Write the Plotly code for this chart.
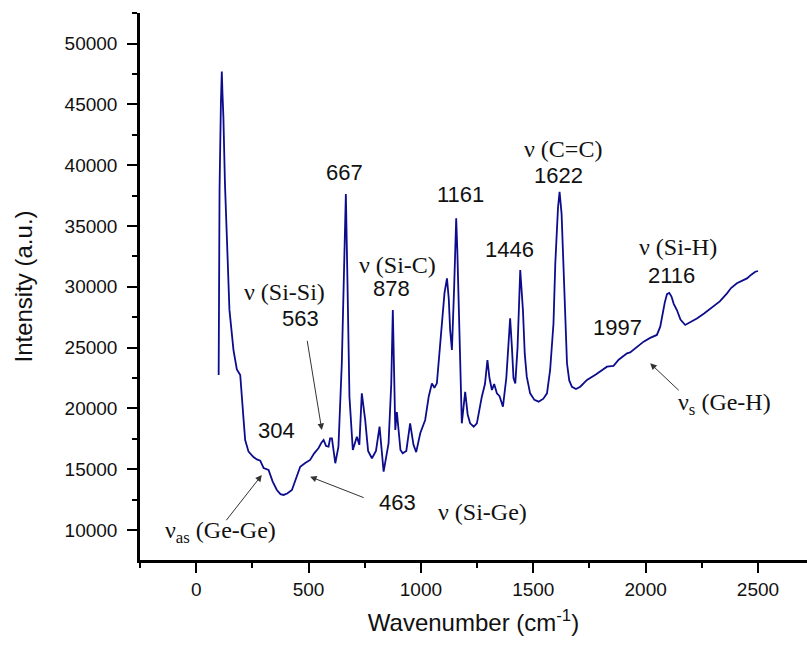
import plotly.graph_objects as go

# ---- data ----
wavenumber = [100, 104, 110, 114, 117, 121, 128, 137, 148, 166, 181, 196, 203, 211, 218, 233,
              255, 270, 285, 300, 322, 340, 359, 375, 389, 405, 426, 445, 463, 485, 507, 525,
              544, 558, 567, 578, 589, 596, 604, 619, 633, 648, 659, 666, 673, 682, 697, 708,
              715, 726, 737, 752, 765, 782, 800, 816, 834, 856, 868, 875, 880, 886, 893, 909,
              919, 935, 952, 967, 979, 997, 1019, 1035, 1049, 1060, 1071, 1086, 1093, 1105,
              1116, 1124, 1130, 1138, 1148, 1157, 1162, 1167, 1175, 1182, 1197, 1208, 1219,
              1235, 1249, 1260, 1271, 1285, 1296, 1305, 1316, 1326, 1338, 1350, 1365, 1380,
              1392, 1397, 1405, 1412, 1420, 1430, 1442, 1448, 1454, 1462, 1471, 1486, 1505,
              1524, 1545, 1561, 1575, 1590, 1598, 1610, 1617, 1626, 1635, 1643, 1650, 1660,
              1672, 1690, 1709, 1739, 1780, 1828, 1857, 1880, 1917, 1931, 1960, 1991, 2020,
              2050, 2065, 2072, 2085, 2095, 2105, 2115, 2125, 2139, 2155, 2176, 2200, 2228,
              2260, 2302, 2330, 2362, 2380, 2406, 2430, 2451, 2470, 2488, 2500]
intensity = [22750, 37960, 45100, 47700, 45900, 44000, 38500, 33000, 28100, 24800, 23200, 22750,
             20700, 19050, 17400, 16440, 16000, 15800, 15700, 15100, 14930, 14000, 13290, 12950,
             12880, 13000, 13290, 14300, 15200, 15500, 15760, 16300, 16720, 17200, 17400, 16900,
             16850, 17540, 17540, 15490, 16850, 23710, 31960, 37630, 30560, 20960, 16580, 17300,
             17670, 17000, 21240, 19050, 16500, 15900, 16500, 18500, 14800, 17130, 22000, 28090,
             22000, 18220, 19700, 16580, 16300, 16500, 18770, 17000, 16400, 17950, 19050, 21000,
             22060, 21700, 22060, 25350, 27540, 29500, 30690, 29000, 26450, 24800, 30000, 35630,
             33000, 29190, 22000, 18770, 21370, 19500, 18770, 18500, 18770, 20000, 20960, 22000,
             23980, 22500, 21510, 22000, 21240, 21000, 20140, 22500, 26500, 27400, 25000, 22500,
             22060, 25000, 31380, 30000, 28090, 24500, 22610, 21240, 20700, 20550, 20800, 21240,
             23160, 27000, 31930, 36500, 37820, 36000, 31930, 27000, 23710, 22300, 21780, 21600,
             21780, 22340, 22800, 23430, 23500, 24000, 24530, 24600, 25000, 25490, 25800, 26040,
             26720, 27540, 28700, 29400, 29500, 29200, 28600, 28090, 27300, 26860, 27100, 27400,
             27800, 28360, 28800, 29460, 29900, 30290, 30500, 30690, 31000, 31240, 31300]

# labels
label_text = ["667", "ν (Si-Si)", "563", "ν (Si-C)", "878", "1161", "1446", "ν (C=C)", "1622",
              "ν (Si-H)", "2116", "1997", "ν<sub>s</sub> (Ge-H)", "304", "463", "ν (Si-Ge)",
              "ν<sub>as</sub> (Ge-Ge)"]
label_x = [659, 392, 463, 897, 871, 1175, 1393, 1631, 1612, 2143, 2113, 1876, 2350, 359, 897, 1275, 107]
label_y = [39440, 29600, 27410, 31790, 29860, 37630, 33030, 41300, 39150, 33300, 30970, 26650,
           20360, 18160, 12260, 11500, 9836]
label_serif = [False, True, False, True, False, False, False, True, False,
               True, False, False, True, False, False, True, True]

# arrows: tail -> tip
arrow_tail_x = [493, 129, 752, 2154]
arrow_tail_y = [25680, 10680, 12610, 21370]
arrow_tip_x = [559, 292, 507, 2020]
arrow_tip_y = [18220, 14520, 14380, 23710]

SANS = "Liberation Sans, Arial, sans-serif"
SERIF = "Liberation Serif, Times New Roman, serif"

fig = go.Figure()
fig.add_trace(go.Scatter(x=wavenumber, y=intensity, mode="lines",
                         line=dict(color="#0c0c8c", width=1.8), showlegend=False,
                         hoverinfo="skip"))

annotations = []
for t, x, y, s in zip(label_text, label_x, label_y, label_serif):
    annotations.append(dict(x=x, y=y, xref="x", yref="y", text=t, showarrow=False,
                            xanchor="center", yanchor="middle", borderpad=0,
                            font=dict(family=SERIF if s else SANS, size=24 if s else 22,
                                      color="#111111")))
for tx, ty, hx, hy in zip(arrow_tail_x, arrow_tail_y, arrow_tip_x, arrow_tip_y):
    annotations.append(dict(x=hx, y=hy, ax=tx, ay=ty, xref="x", yref="y", axref="x", ayref="y",
                            text="", showarrow=True, arrowhead=2, arrowsize=1.3, arrowwidth=1,
                            arrowcolor="#333333", standoff=0))

fig.update_layout(
    width=807, height=645,
    margin=dict(l=140, r=0, t=13, b=85),
    paper_bgcolor="white", plot_bgcolor="white",
    annotations=annotations,
    font=dict(family=SANS, color="#111111"),
    xaxis=dict(range=[-250, 2718], tickmode="linear", tick0=0, dtick=500, tickformat="d",
               showline=True, linecolor="black", linewidth=2.5, ticks="outside",
               ticklen=10, tickwidth=2, tickcolor="black", showgrid=False, zeroline=False,
               tickfont=dict(size=19, family=SANS, color="#111111"),
               minor=dict(ticks="outside", dtick=250, tick0=0, ticklen=5, tickwidth=2,
                          tickcolor="black", showgrid=False),
               title=dict(text="Wavenumber (cm<sup>-1</sup>)", font=dict(size=24, family=SANS),
                          standoff=16)),
    yaxis=dict(range=[7530, 52520], tickmode="linear", tick0=0, dtick=5000, tickformat="d",
               showline=True, linecolor="black", linewidth=2.5, ticks="outside",
               ticklen=10, tickwidth=2, tickcolor="black", showgrid=False, zeroline=False,
               tickfont=dict(size=19, family=SANS, color="#111111"),
               ticklabelstandoff=6,
               minor=dict(ticks="outside", dtick=2500, tick0=0, ticklen=5, tickwidth=2,
                          tickcolor="black", showgrid=False),
               title=dict(text="Intensity (a.u.)", font=dict(size=24, family=SANS),
                          standoff=26)),
)

fig.write_html("out.html")
